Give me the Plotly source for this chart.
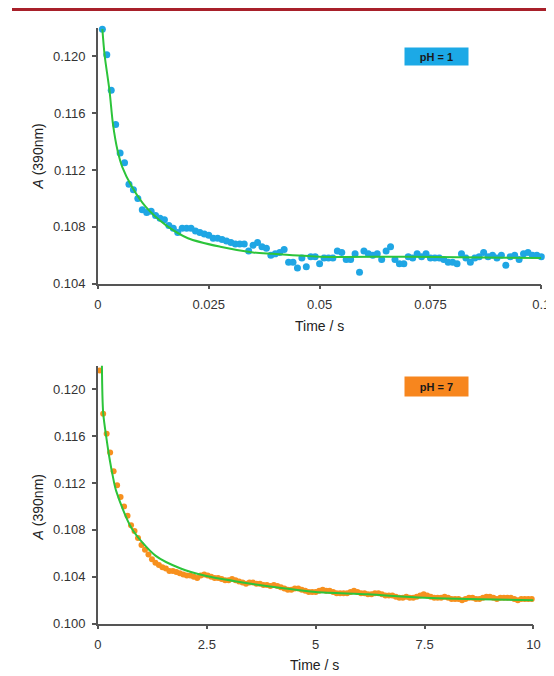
import plotly.graph_objects as go

# ---------------- data ----------------
# pH = 1 panel (time in s, absorbance at 390 nm)
t_ph1 = [round(0.001 * i, 3) for i in range(1, 101)]
a_ph1 = [
    0.1219, 0.1201, 0.1176, 0.1152, 0.1132, 0.1125, 0.1110, 0.1106, 0.1100, 0.1092,
    0.1090, 0.1091, 0.1088, 0.1086, 0.1085, 0.1081, 0.1079, 0.1076, 0.1079, 0.1079,
    0.1079, 0.1077, 0.1076, 0.1075, 0.1074, 0.1072, 0.1072, 0.1071, 0.1070, 0.1069,
    0.1068, 0.1068, 0.1068, 0.1063, 0.1067, 0.1069, 0.1066, 0.1065, 0.1060, 0.1061,
    0.1062, 0.1064, 0.1055, 0.1055, 0.1051, 0.1058, 0.1052, 0.1059, 0.1059, 0.1054,
    0.1058, 0.1058, 0.1058, 0.1063, 0.1062, 0.1057, 0.1057, 0.1061, 0.1048, 0.1063,
    0.1061, 0.1060, 0.1061, 0.1057, 0.1063, 0.1066, 0.1057, 0.1054, 0.1054, 0.1059,
    0.1058, 0.1061, 0.1059, 0.1061, 0.1058, 0.1058, 0.1058, 0.1057, 0.1055, 0.1055,
    0.1054, 0.1061, 0.1058, 0.1055, 0.1058, 0.1059, 0.1062, 0.1059, 0.1060, 0.1058,
    0.1060, 0.1053, 0.1059, 0.1060, 0.1057, 0.1061, 0.1062, 0.1060, 0.1060, 0.1059,
]
fit_t_ph1 = [0.001, 0.0015, 0.0026, 0.0034, 0.0044, 0.0055, 0.0077, 0.0108, 0.0154,
             0.0203, 0.0276, 0.035, 0.0394, 0.05, 0.07, 0.1]
fit_a_ph1 = [0.1219, 0.1201, 0.1176, 0.1152, 0.1134, 0.1122, 0.1108, 0.1094, 0.1081,
             0.1072, 0.1066, 0.1062, 0.1061, 0.1059, 0.1059, 0.1058]

# pH = 7 panel
t_ph7 = [round(0.04 + 0.08 * i, 2) for i in range(125)]
a_ph7 = [
    0.1216, 0.1179, 0.1162, 0.1146, 0.1130, 0.1118, 0.1108, 0.1100, 0.1092, 0.1084,
    0.1079, 0.1073, 0.1067, 0.1063, 0.1059, 0.1055, 0.1052, 0.1050, 0.1048, 0.1047,
    0.1045, 0.1045, 0.1044, 0.1043, 0.1042, 0.1041, 0.1041, 0.1040, 0.1039, 0.1041,
    0.1042, 0.1041, 0.1040, 0.1039, 0.1039, 0.1038, 0.1037, 0.1037, 0.1038, 0.1037,
    0.1036, 0.1035, 0.1034, 0.1035, 0.1035, 0.1034, 0.1034, 0.1033, 0.1033, 0.1032,
    0.1033, 0.1032, 0.1031, 0.1030, 0.1029, 0.1029, 0.1030, 0.1030, 0.1029, 0.1028,
    0.1027, 0.1027, 0.1027, 0.1028, 0.1029, 0.1028, 0.1028, 0.1027, 0.1026, 0.1026,
    0.1026, 0.1026, 0.1027, 0.1028, 0.1027, 0.1026, 0.1026, 0.1025, 0.1025, 0.1026,
    0.1026, 0.1025, 0.1024, 0.1024, 0.1024, 0.1023, 0.1022, 0.1022, 0.1023, 0.1022,
    0.1022, 0.1023, 0.1024, 0.1025, 0.1024, 0.1023, 0.1022, 0.1022, 0.1022, 0.1023,
    0.1022, 0.1021, 0.1021, 0.1021, 0.1020, 0.1021, 0.1022, 0.1022, 0.1021, 0.1021,
    0.1022, 0.1023, 0.1023, 0.1022, 0.1021, 0.1022, 0.1022, 0.1022, 0.1022, 0.1021,
    0.1020, 0.1021, 0.1021, 0.1021, 0.1021,
]
fit_t_ph7 = [0.09, 0.12, 0.20, 0.27, 0.34, 0.42, 0.78, 1.32, 1.90, 2.44, 3.18, 4.3,
             5.0, 6.2, 7.5, 10.0]
fit_a_ph7 = [0.1225, 0.1180, 0.1157, 0.1140, 0.1126, 0.1113, 0.1081, 0.1058, 0.1047,
             0.1041, 0.1036, 0.1030, 0.1027, 0.1025, 0.1022, 0.1020]

ticks_y1 = [0.104, 0.108, 0.112, 0.116, 0.120]
ticklab_y1 = ["0.104", "0.108", "0.112", "0.116", "0.120"]
ticks_x1 = [0, 0.025, 0.05, 0.075, 0.1]
ticklab_x1 = ["0", "0.025", "0.05", "0.075", "0.1"]
ticks_y2 = [0.100, 0.104, 0.108, 0.112, 0.116, 0.120]
ticklab_y2 = ["0.100", "0.104", "0.108", "0.112", "0.116", "0.120"]
ticks_x2 = [0, 2.5, 5, 7.5, 10]
ticklab_x2 = ["0", "2.5", "5", "7.5", "10"]

# ---------------- figure ----------------
W, H = 554, 676
BLUE = "#1FA6E4"
ORANGE = "#F7901E"
GREEN = "#2CC43A"
AX = "#555555"
FONT = "Arial, Liberation Sans, sans-serif"

fig = go.Figure()
fig.add_trace(go.Scatter(x=t_ph1, y=a_ph1, mode="markers",
                         marker=dict(color=BLUE, size=7), xaxis="x", yaxis="y",
                         cliponaxis=False, showlegend=False))
fig.add_trace(go.Scatter(x=fit_t_ph1, y=fit_a_ph1, mode="lines",
                         line=dict(color=GREEN, width=2, shape="spline", smoothing=0.8),
                         xaxis="x", yaxis="y", showlegend=False))
fig.add_trace(go.Scatter(x=t_ph7, y=a_ph7, mode="markers",
                         marker=dict(color=ORANGE, size=6), xaxis="x2", yaxis="y2",
                         cliponaxis=False, showlegend=False))
fig.add_trace(go.Scatter(x=fit_t_ph7, y=fit_a_ph7, mode="lines",
                         line=dict(color=GREEN, width=2, shape="spline", smoothing=0.8),
                         xaxis="x2", yaxis="y2", showlegend=False))

def px_x(p):
    return p / W

def px_y(p):
    return 1 - p / H

axis_common = dict(showline=True, linecolor=AX, linewidth=1.5, ticks="outside",
                   ticklen=4, tickwidth=1.5, tickcolor=AX, showgrid=False,
                   zeroline=False, tickfont=dict(family=FONT, size=13, color="#333333"),
                   ticklabelstandoff=4)

fig.update_layout(
    width=W, height=H,
    margin=dict(l=0, r=0, t=0, b=0),
    paper_bgcolor="white", plot_bgcolor="white",
    xaxis=dict(domain=[px_x(88), px_x(542)], range=[0, 0.1], tickvals=ticks_x1,
               ticktext=ticklab_x1, anchor="y", **axis_common),
    yaxis=dict(domain=[px_y(279), px_y(20)], range=[0.104, 0.122], tickvals=ticks_y1,
               ticktext=ticklab_y1, anchor="x", **axis_common),
    xaxis2=dict(domain=[px_x(88), px_x(534)], range=[0, 10], tickvals=ticks_x2,
                ticktext=ticklab_x2, anchor="y2", **axis_common),
    yaxis2=dict(domain=[px_y(623), px_y(362)], range=[0.100, 0.122], tickvals=ticks_y2,
                ticktext=ticklab_y2, anchor="x2", **axis_common),
    shapes=[dict(type="rect", xref="paper", yref="paper", x0=0, x1=1,
                 y0=px_y(3), y1=1, fillcolor="#A8202A", line=dict(width=0))],
)

title_font = dict(family=FONT, size=14, color="#222222")
annos = [
    dict(text="Time / s", x=px_x(315), y=px_y(322)),
    dict(text="Time / s", x=px_x(310), y=px_y(665)),
    dict(text="<i>A</i> (390nm)", x=px_x(27), y=px_y(150), textangle=-90),
    dict(text="<i>A</i> (390nm)", x=px_x(27), y=px_y(505), textangle=-90),
]
for a in annos:
    fig.add_annotation(xref="paper", yref="paper", showarrow=False,
                       xanchor="center", yanchor="middle", font=title_font, **a)

box_font = dict(family=FONT, size=11, color="#1a1a1a")
fig.add_annotation(xref="paper", yref="paper", x=px_x(434.5), y=px_y(49.5),
                   text="<b>pH = 1</b>", showarrow=False, bgcolor="#1CA9E6",
                   width=59, height=13, borderpad=2, font=box_font,
                   xanchor="center", yanchor="middle")
fig.add_annotation(xref="paper", yref="paper", x=px_x(434.5), y=px_y(383),
                   text="<b>pH = 7</b>", showarrow=False, bgcolor="#F7861E",
                   width=59, height=15, borderpad=2, font=box_font,
                   xanchor="center", yanchor="middle")

fig.write_html("out.html")
